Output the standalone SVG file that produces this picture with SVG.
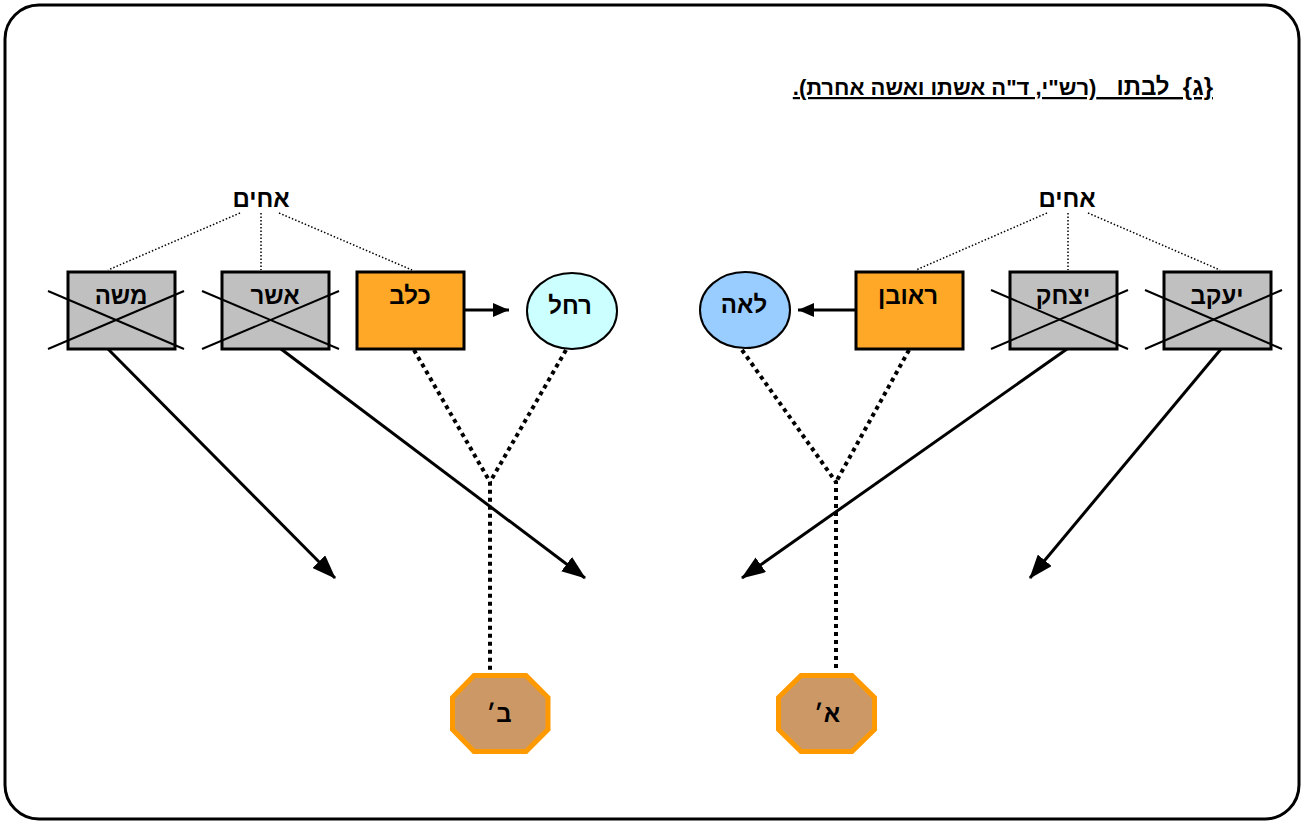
<svg xmlns="http://www.w3.org/2000/svg" width="1304" height="824" viewBox="0 0 1304 824">
<style>
.lbl{font-family:"Liberation Sans","DejaVu Sans",sans-serif;font-weight:bold;font-size:24px;fill:#000;text-anchor:middle}
.box{stroke:#000;stroke-width:3}
.gray{fill:#C0C0C0}
.orange{fill:#FFA726}
.x{stroke:#000;stroke-width:2}
.thin{stroke:#000;stroke-width:1.5;stroke-dasharray:1.5 2;fill:none}
.thick{stroke:#000;stroke-width:4;stroke-dasharray:4 4;fill:none}
.solid{stroke:#000;stroke-width:3;fill:none}
.oct{fill:#CC9966;stroke:#FF9900;stroke-width:5}
</style>
<defs>
<marker id="big" markerUnits="userSpaceOnUse" markerWidth="24" markerHeight="18" refX="23" refY="9" orient="auto">
<path d="M0,0 L24,9 L0,18 Z" fill="#000"/>
</marker>
<marker id="small" markerUnits="userSpaceOnUse" markerWidth="16" markerHeight="14" refX="16" refY="7" orient="auto">
<path d="M0,0 L16,7 L0,14 Z" fill="#000"/>
</marker>
</defs>
<rect x="5" y="5" width="1294" height="814" rx="34" ry="34" fill="#fff" stroke="#000" stroke-width="3"/>
<text x="1213" y="95" direction="rtl" text-anchor="start" xml:space="preserve" style="font-family:'Liberation Sans','DejaVu Sans',sans-serif;font-weight:bold;text-decoration:underline"><tspan font-size="24">{ג}  לבתו   </tspan><tspan font-size="22">(רש"י, ד"ה אשתו ואשה אחרת).</tspan></text>
<g id="connectors">
<line class="thin" x1="240" y1="213" x2="108" y2="270"/>
<line class="thin" x1="261" y1="213" x2="261" y2="270"/>
<line class="thin" x1="279" y1="213" x2="412" y2="270"/>
<line class="thin" x1="1047" y1="213" x2="916" y2="270"/>
<line class="thin" x1="1068" y1="213" x2="1068" y2="270"/>
<line class="thin" x1="1088" y1="213" x2="1220" y2="270"/>
<line class="solid" x1="464" y1="310" x2="509" y2="310" marker-end="url(#small)"/>
<line class="solid" x1="855" y1="310" x2="798" y2="310" marker-end="url(#small)"/>
<line class="solid" x1="108" y1="349" x2="335" y2="578" marker-end="url(#big)"/>
<line class="solid" x1="281" y1="349" x2="585" y2="578" marker-end="url(#big)"/>
<line class="solid" x1="1067" y1="349" x2="742" y2="578" marker-end="url(#big)"/>
<line class="solid" x1="1221" y1="349" x2="1030" y2="578" marker-end="url(#big)"/>
<polyline class="thick" points="414,350 490,482 490,672"/>
<line class="thick" x1="566" y1="350" x2="490" y2="482"/>
<polyline class="thick" points="742,350 836,482 836,672"/>
<line class="thick" x1="909" y1="350" x2="836" y2="482"/>
</g>
<g id="achim-left"><text class="lbl" x="261" y="207">אחים</text></g>
<g id="achim-right"><text class="lbl" x="1067" y="207">אחים</text></g>
<g id="moshe">
<rect class="box gray" x="68" y="272" width="107" height="77"/>
<text class="lbl" x="121" y="304">משה</text>
<line class="x" x1="48" y1="291" x2="184" y2="349"/>
<line class="x" x1="48" y1="349" x2="184" y2="291"/>
</g>
<g id="asher">
<rect class="box gray" x="222" y="272" width="107" height="77"/>
<text class="lbl" x="275" y="304">אשר</text>
<line class="x" x1="202" y1="291" x2="339" y2="349"/>
<line class="x" x1="202" y1="349" x2="339" y2="291"/>
</g>
<g id="kalev">
<rect class="box orange" x="357" y="272" width="107" height="77"/>
<text class="lbl" x="410" y="304">כלב</text>
</g>
<g id="rachel">
<ellipse cx="572" cy="311" rx="45" ry="38" fill="#CCFFFF" stroke="#000" stroke-width="2"/>
<text class="lbl" x="570" y="314">רחל</text>
</g>
<g id="leah">
<ellipse cx="745" cy="310" rx="45" ry="38" fill="#99CCFF" stroke="#000" stroke-width="2"/>
<text class="lbl" x="744" y="313">לאה</text>
</g>
<g id="reuven">
<rect class="box orange" x="856" y="272" width="107" height="77"/>
<text class="lbl" x="908" y="304">ראובן</text>
</g>
<g id="yitzchak">
<rect class="box gray" x="1010" y="272" width="107" height="77"/>
<text class="lbl" x="1063" y="304">יצחק</text>
<line class="x" x1="991" y1="290" x2="1128" y2="349"/>
<line class="x" x1="991" y1="349" x2="1128" y2="290"/>
</g>
<g id="yaakov">
<rect class="box gray" x="1164" y="272" width="107" height="77"/>
<text class="lbl" x="1217" y="304">יעקב</text>
<line class="x" x1="1145" y1="290" x2="1282" y2="349"/>
<line class="x" x1="1145" y1="349" x2="1282" y2="290"/>
</g>
<g id="bet">
<polygon class="oct" points="474,675.5 526,675.5 548,697.5 548,729.5 526,751.5 474,751.5 452.5,729.5 452.5,697.5"/>
<text class="lbl" x="499" y="722">ב׳</text>
</g>
<g id="alef">
<polygon class="oct" points="801,675.5 852,675.5 874.5,697.5 874.5,729.5 852,751.5 801,751.5 778.5,729.5 778.5,697.5"/>
<text class="lbl" x="827" y="722">א׳</text>
</g>
</svg>
